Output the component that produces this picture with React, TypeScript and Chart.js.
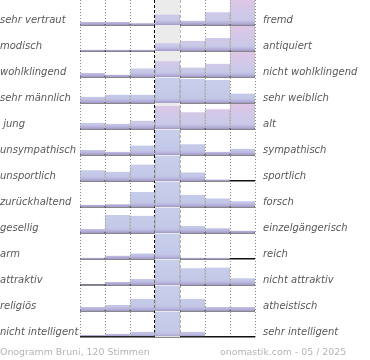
import React, { useEffect, useRef } from 'react';
import { Chart, registerables } from 'chart.js';

Chart.register(...registerables);

// Polarity labels (left = value 1, right = value 7)
const leftLabels = [
  'sehr vertraut', 'modisch', 'wohlklingend', 'sehr männlich', ' jung', 'unsympathisch',
  'unsportlich', 'zurückhaltend', 'gesellig', 'arm', 'attraktiv', 'religiös', 'nicht intelligent',
];
const rightLabels = [
  'fremd', 'antiquiert', 'nicht wohlklingend', 'sehr weiblich', 'alt', 'sympathisch',
  'sportlich', 'forsch', 'einzelgängerisch', 'reich', 'nicht attraktiv', 'atheistisch', 'sehr intelligent',
];
const columns = [1, 2, 3, 4, 5, 6, 7];

// Vote shares (%) per scale step 1..7
const vertraut = [5, 5, 3, 17, 7, 21, 41];
const modisch = [2, 2, 2, 13, 17, 22, 42];
const wohlklingend = [5, 3, 11, 20, 12, 17, 32];
const maennlich = [6, 8, 8, 24, 23, 22, 9];
const jung = [6, 5, 8, 22, 16, 19, 24];
const unsympathisch = [8, 5, 15, 40, 17, 5, 10];
const unsportlich = [15, 13, 23, 35, 12, 2, 0];
const zurueckhaltend = [3, 4, 21, 35, 17, 12, 8];
const gesellig = [5, 23, 22, 32, 9, 6, 3];
const arm = [3, 9, 15, 67, 3, 3, 0];
const attraktiv = [1, 4, 8, 33, 22, 23, 9];
const religioes = [6, 9, 18, 37, 18, 6, 6];
const intelligent = [5, 8, 13, 61, 13, 0, 0];

const rows = [
  vertraut, modisch, wohlklingend, maennlich, jung, unsympathisch, unsportlich,
  zurueckhaltend, gesellig, arm, attraktiv, religioes, intelligent,
];

const footerLeft = 'Onogramm Bruni, 120 Stimmen';
const footerRight = 'onomastik.com - 05 / 2025';

const ROWS = rows.length;
const FULL = 0.96;
const FONT = "'DejaVu Sans', Verdana, sans-serif";

function barFill(chart: any, base: number, pink: boolean) {
  const y = chart.scales && chart.scales.y;
  if (!chart.chartArea || !y) return '#c5cce9';
  const top = y.getPixelForValue(base + FULL);
  const bottom = y.getPixelForValue(base);
  const g = chart.ctx.createLinearGradient(0, top, 0, bottom);
  if (pink) {
    g.addColorStop(0, '#dfc6e6');
    g.addColorStop(0.45, '#d2c8e8');
    g.addColorStop(0.8, '#c8c9e8');
  } else {
    g.addColorStop(0, '#c8cfeb');
    g.addColorStop(0.8, '#c3c8e8');
  }
  g.addColorStop(0.9, '#bab7de');
  g.addColorStop(1, '#a298c9');
  return g;
}

const bandPlugin = {
  id: 'middleBand',
  beforeDatasetsDraw(chart: any) {
    const { ctx, chartArea, scales } = chart;
    const x0 = scales.x.getPixelForValue(3);
    const x1 = scales.x.getPixelForValue(4);
    ctx.save();
    ctx.fillStyle = '#ebebeb';
    ctx.fillRect(x0, chartArea.top, x1 - x0, chartArea.bottom - chartArea.top);
    ctx.restore();
  },
};

const noPad = (s: any) => {
  s.paddingTop = 0;
  s.paddingBottom = 0;
  s.paddingLeft = 0;
  s.paddingRight = 0;
};

export default function App() {
  const ref = useRef<HTMLCanvasElement>(null);

  useEffect(() => {
    const canvas = ref.current;
    if (!canvas) return;

    const datasets = rows.map((vals, k) => {
      const base = ROWS - 1 - k;
      const max = Math.max(...vals);
      const pink = vals.indexOf(max) === vals.length - 1;
      return {
        label: leftLabels[k],
        data: vals.map((v, i) => ({ x: columns[i] - 0.5, y: [base, base + (v / max) * FULL] })),
        grouped: false,
        barPercentage: 1,
        categoryPercentage: 1,
        borderWidth: { left: 1, right: 1, top: 0, bottom: 0 },
        borderSkipped: false,
        borderColor: 'rgba(140,140,140,0.55)',
        backgroundColor: (c: any) => barFill(c.chart, base, pink),
      };
    });

    const labelFont = { family: FONT, size: 10, style: 'italic' as const };

    const chart = new Chart(canvas, {
      type: 'bar',
      data: { datasets: datasets as any },
      plugins: [bandPlugin],
      options: {
        animation: false,
        responsive: false,
        events: [],
        layout: { padding: { left: 0, right: 0, top: 0, bottom: 23 } },
        plugins: { legend: { display: false }, tooltip: { enabled: false } },
        scales: {
          x: {
            type: 'linear', min: 0, max: 7, position: 'bottom', offset: false,
            ticks: { display: false, stepSize: 1 },
            grid: {
              offset: false, drawTicks: false, lineWidth: 1,
              color: (c: any) => (c.tick && (c.tick.value === 3 || c.tick.value === 4)) ? 'rgba(0,0,0,0)' : '#8a8a8a',
            },
            border: { display: false, dash: [1, 2] },
            afterFit: (s: any) => { s.height = 0; noPad(s); },
          },
          xm: {
            type: 'linear', min: 0, max: 7, position: 'bottom', z: 1, offset: false,
            afterBuildTicks: (s: any) => { s.ticks = [{ value: 3 }, { value: 4 }]; },
            ticks: { display: false },
            grid: { offset: false, drawTicks: false, color: '#000', lineWidth: 1.3 },
            border: { display: false, dash: [3, 2] },
            afterFit: (s: any) => { s.height = 0; noPad(s); },
          },
          y: {
            type: 'linear', min: 0, max: ROWS - 1 + FULL, position: 'left', z: 1,
            afterBuildTicks: (s: any) => { s.ticks = rows.map((_, k) => ({ value: k })); },
            ticks: { display: false },
            grid: { drawTicks: false, color: '#111', lineWidth: 1.5 },
            border: { display: false },
            afterFit: (s: any) => { s.width = 0; noPad(s); },
          },
          yl: {
            type: 'linear', min: 0, max: ROWS - 1 + FULL, position: 'left',
            afterBuildTicks: (s: any) => { s.ticks = leftLabels.map((_, k) => ({ value: ROWS - 1 - k + 0.17 })); },
            ticks: {
              autoSkip: false, crossAlign: 'far', padding: 0, color: '#585858', font: labelFont,
              callback: (_v: any, i: number) => leftLabels[i],
            },
            grid: { display: false, drawTicks: false },
            border: { display: false },
            afterFit: (s: any) => { s.width = 80; noPad(s); },
          },
          yr: {
            type: 'linear', min: 0, max: ROWS - 1 + FULL, position: 'right',
            afterBuildTicks: (s: any) => { s.ticks = rightLabels.map((_, k) => ({ value: ROWS - 1 - k + 0.17 })); },
            ticks: {
              autoSkip: false, crossAlign: 'near', padding: 8, color: '#585858', font: labelFont,
              callback: (_v: any, i: number) => rightLabels[i],
            },
            grid: { display: false, drawTicks: false },
            border: { display: false },
            afterFit: (s: any) => { s.width = 115; noPad(s); },
          },
        } as any,
      },
    });

    return () => chart.destroy();
  }, []);

  const footStyle: React.CSSProperties = {
    position: 'absolute', top: 346, fontFamily: FONT, fontSize: '9.4px', lineHeight: '11px',
    color: '#b4b4b4', whiteSpace: 'nowrap',
  };

  return (
    <div style={{ position: 'fixed', left: 0, top: 0, width: 370, height: 360, background: '#fff' }}>
      <canvas ref={ref} width={370} height={360} style={{ display: 'block', width: 370, height: 360 }} />
      <div style={{ ...footStyle, left: 0 }}>{footerLeft}</div>
      <div style={{ ...footStyle, left: 220 }}>{footerRight}</div>
    </div>
  );
}
